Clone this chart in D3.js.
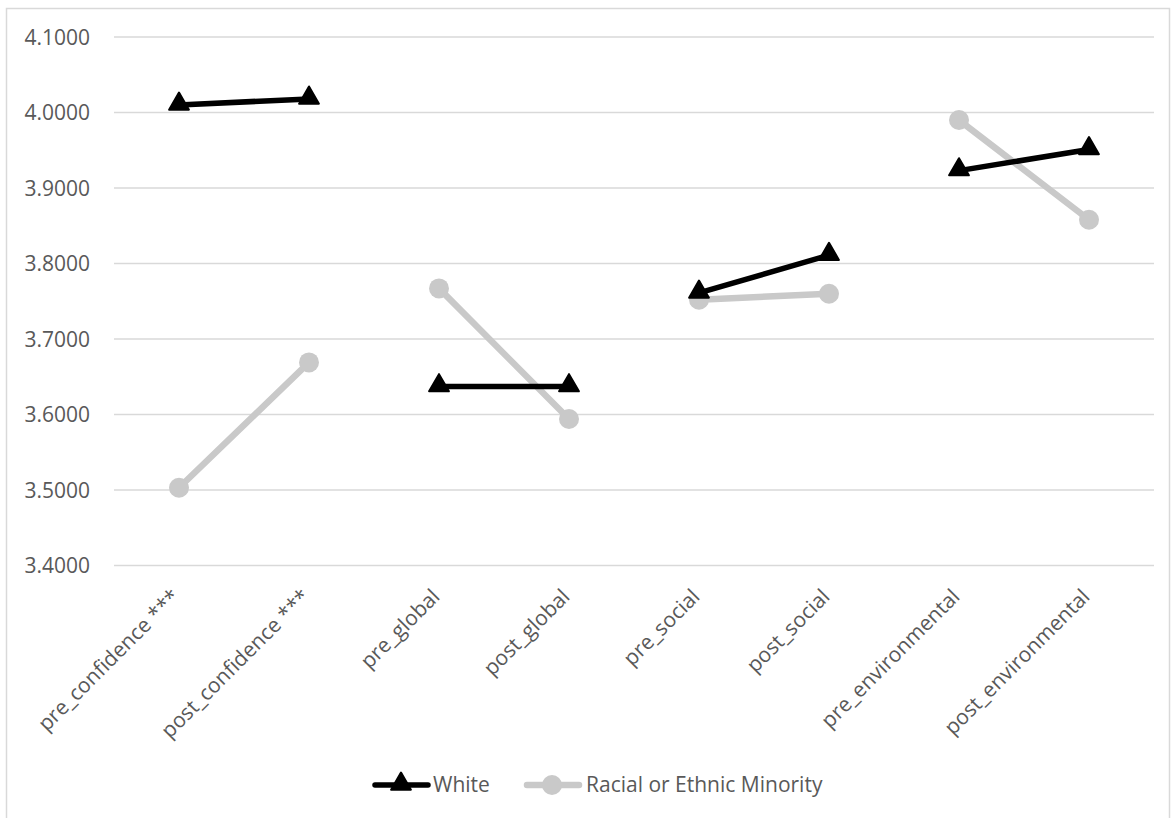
<!DOCTYPE html>
<html><head><meta charset="utf-8">
<script src="https://cdn.jsdelivr.net/npm/d3@7"></script>
<style>body{margin:0;background:#fff;} text{font-family:"Open Sans",sans-serif;fill:#595959;}</style>
</head><body><svg id="c" width="1176" height="818"></svg>
<script>
const categories = ["pre_confidence ***","post_confidence ***","pre_global","post_global","pre_social","post_social","pre_environmental","post_environmental"];
const white = [4.010, 4.018, 3.637, 3.637, 3.761, 3.811, 3.923, 3.951];
const minority = [3.503, 3.669, 3.767, 3.594, 3.752, 3.760, 3.990, 3.858];
const yTicks = [3.4, 3.5, 3.6, 3.7, 3.8, 3.9, 4.0, 4.1];
const seriesNames = ["White", "Racial or Ethnic Minority"];

const svg = d3.select("#c");
svg.append("rect").attr("x",6.5).attr("y",8.5).attr("width",1163).attr("height",830)
  .attr("fill","none").attr("stroke","#d9d9d9").attr("stroke-width",1.5);

const x = d3.scaleBand().domain(categories).range([114,1154]);
const y = d3.scaleLinear().domain([3.4,4.1]).range([565.5,37]);

svg.append("g").selectAll("line").data(yTicks).join("line")
  .attr("x1",114).attr("x2",1154).attr("y1",d=>y(d)).attr("y2",d=>y(d))
  .attr("stroke","#d9d9d9").attr("stroke-width",1.5);

const yAxis = d3.axisLeft(y).tickValues(yTicks).tickFormat(d3.format(".4f")).tickSize(0).tickPadding(24);
const ga = svg.append("g").attr("transform","translate(114,0)").call(yAxis);
ga.select(".domain").remove();
ga.selectAll("text").style("font-size","21px").attr("fill","#595959").attr("dy","0.35em");

const xAxis = d3.axisBottom(x).tickSize(0);
const gx = svg.append("g").attr("transform","translate(0,565)").call(xAxis);
gx.select(".domain").remove();
gx.selectAll("text").style("font-size","21px").attr("fill","#595959")
  .attr("text-anchor","end").attr("dy","0").attr("y",0)
  .attr("transform","translate(2,33) rotate(-45)");

const cx = i => x(categories[i]) + x.bandwidth()/2;
const pairs = [0,1,2,3];
const line = d3.line().x(d=>cx(d.i)).y(d=>y(d.v));

function drawSeries(vals, color, width, marker){
  const g = svg.append("g");
  g.selectAll("path.seg").data(pairs).join("path").attr("class","seg")
    .attr("d", p => line([{i:2*p, v:vals[2*p]},{i:2*p+1, v:vals[2*p+1]}]))
    .attr("fill","none").attr("stroke",color).attr("stroke-width",width).attr("stroke-linecap","round");
  if(marker==="tri"){
    g.selectAll("path.m").data(vals).join("path").attr("class","m")
      .attr("d", d3.symbol().type(d3.symbolTriangle).size(170))
      .attr("transform",(d,i)=>`translate(${cx(i)},${y(d)-1})`)
      .attr("fill",color).attr("stroke",color).attr("stroke-width",2).attr("stroke-linejoin","round");
  } else {
    g.selectAll("circle").data(vals).join("circle")
      .attr("cx",(d,i)=>cx(i)).attr("cy",d=>y(d)).attr("r",10).attr("fill",color);
  }
}
drawSeries(minority, "#c9c9c9", 6.5, "circle");
drawSeries(white, "#000000", 5.5, "tri");

const lg = svg.append("g");
lg.append("line").attr("x1",375).attr("x2",428).attr("y1",785).attr("y2",785).attr("stroke","#000").attr("stroke-width",5.5).attr("stroke-linecap","round");
lg.append("path").attr("d",d3.symbol().type(d3.symbolTriangle).size(170)).attr("transform","translate(401,784)").attr("fill","#000").attr("stroke","#000").attr("stroke-width",2).attr("stroke-linejoin","round");
lg.append("text").attr("x",433).attr("y",785).attr("dy","0.35em").style("font-size","21px").text(seriesNames[0]);
lg.append("line").attr("x1",527).attr("x2",579).attr("y1",785).attr("y2",785).attr("stroke","#c9c9c9").attr("stroke-width",6.5).attr("stroke-linecap","round");
lg.append("circle").attr("cx",552).attr("cy",785).attr("r",10).attr("fill","#c9c9c9");
lg.append("text").attr("x",586).attr("y",785).attr("dy","0.35em").style("font-size","21px").text(seriesNames[1]);
</script></body></html>
